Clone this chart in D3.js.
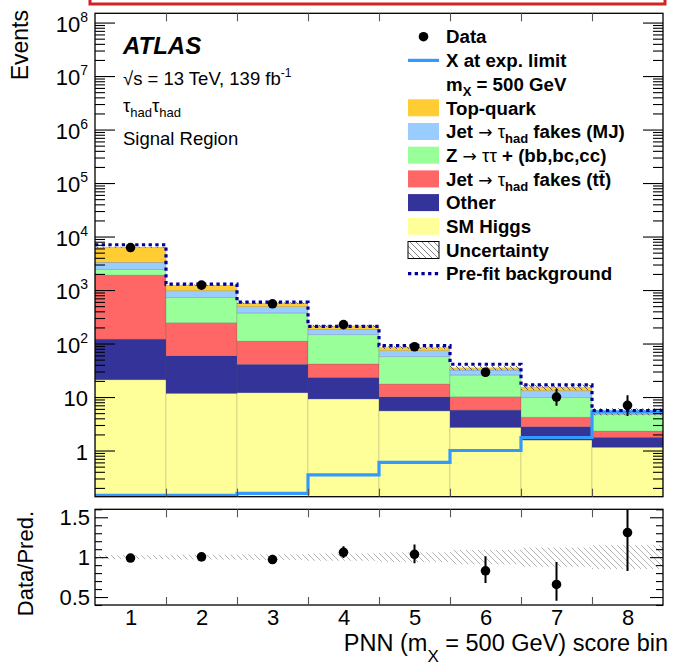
<!DOCTYPE html>
<html>
<head>
<meta charset="utf-8">
<script src="https://cdn.jsdelivr.net/npm/d3@7"></script>
<style>
  body { margin: 0; background: #fff; }
  svg { display: block; }
  text { font-family: "Liberation Sans", Arial, Helvetica, sans-serif; fill: #000; }
</style>
</head>
<body>
<svg id="chart" width="673" height="669"></svg>
<script>
// ---- PNN score bins (signal region, m_X = 500 GeV) ----
const bins = [1, 2, 3, 4, 5, 6, 7, 8];

// post-fit background contributions per bin (events)
const smHiggs    = [21, 11.7, 12, 9.2, 5.5, 2.7, 1.57, 1.15];
const other      = [100, 47.3, 29, 14.1, 4.6, 3.0, 1.23, 0.62];
const fakesTtbar = [1779, 186, 70, 18.1, 7.4, 4.4, 1.4, 0.54];
const zTauTauHF  = [540, 473, 261, 104.6, 39.1, 15.7, 5.5, 2.44];
const fakesMJ    = [860, 252, 116, 38, 16.8, 6.2, 3.4, 0.40];
const topQuark   = [3000, 260, 82, 29, 10.6, 3.0, 2.1, 0.20];

// observed data with (asymmetric) Poisson errors
const dataCounts  = [6230, 1235, 553, 226, 87, 29, 10, 7];
const dataErrLow  = [79, 35, 23.5, 15, 9.3, 5.35, 3.11, 2.58];
const dataErrHigh = [80, 36, 24.5, 16, 10.4, 6.44, 4.26, 3.77];

// pre-fit total background, signal at expected limit, relative uncertainty
const preFitBkg    = [7030, 1290, 595, 210, 91, 41, 16.8, 5.6];
const signalXLimit = [0.145, 0.145, 0.158, 0.35, 0.6, 1.0, 1.75, 5.3];
const relUnc       = [0.025, 0.03, 0.035, 0.045, 0.06, 0.09, 0.12, 0.15];

// axis tick labels
const ratioTickLabels = ["0.5", "1", "1.5"];
const ratioTicks = [0.5, 1, 1.5];

// ---- build table for the stack ----
const layerKeys = ["smHiggs", "other", "fakesTtbar", "zTauTauHF", "fakesMJ", "topQuark"];
const layerColors = {
  smHiggs: "#ffff99", other: "#333399", fakesTtbar: "#ff6666",
  zTauTauHF: "#99ff99", fakesMJ: "#99ccff", topQuark: "#ffcc33"
};
const table = bins.map((b, i) => ({
  bin: b, smHiggs: smHiggs[i], other: other[i], fakesTtbar: fakesTtbar[i],
  zTauTauHF: zTauTauHF[i], fakesMJ: fakesMJ[i], topQuark: topQuark[i]
}));
const stacked = d3.stack().keys(layerKeys)(table);
const totals = table.map(r => layerKeys.reduce((s, k) => s + r[k], 0));

// ---- geometry ----
const L = 95, R = 663;
const mainTop = 13.3, mainBot = 496.7;
const ratTop = 509.3, ratBot = 605;

const svg = d3.select("#chart");
const x = d3.scaleLinear().domain([0.5, 8.5]).range([L, R]);
const y = d3.scaleLog().domain([0.137, 1.49e8]).range([mainBot, mainTop]);
const yr = d3.scaleLinear().domain([0.4, 1.6]).range([ratBot, ratTop]);

const defs = svg.append("defs");
defs.append("clipPath").attr("id", "clipMain")
  .append("rect").attr("x", L).attr("y", mainTop).attr("width", R - L).attr("height", mainBot - mainTop);
defs.append("clipPath").attr("id", "clipRatio")
  .append("rect").attr("x", L).attr("y", ratTop).attr("width", R - L).attr("height", ratBot - ratTop);

function hatch(id, color, w) {
  const p = defs.append("pattern").attr("id", id).attr("patternUnits", "userSpaceOnUse")
    .attr("width", 6).attr("height", 6);
  p.append("path").attr("d", "M0,0L6,6M-1,5L1,7M5,-1L7,1")
    .attr("stroke", color).attr("stroke-width", w).attr("fill", "none");
}
hatch("hatchMain", "#555", 0.9);
hatch("hatchRatio", "#aaa", 0.9);
hatch("hatchLegend", "#777", 0.9);

// red box at the very top
svg.append("rect").attr("x", 90).attr("y", -10).attr("width", 575).attr("height", 14)
  .attr("fill", "none").attr("stroke", "#d02424").attr("stroke-width", 3);

// ---- main panel ----
const gMain = svg.append("g").attr("clip-path", "url(#clipMain)");
const yMin = y.domain()[0];

stacked.forEach(layer => {
  gMain.append("g").selectAll("rect").data(layer).join("rect")
    .attr("x", d => x(d.data.bin - 0.5))
    .attr("width", d => x(d.data.bin + 0.5) - x(d.data.bin - 0.5))
    .attr("y", d => y(d[1]))
    .attr("height", d => y(Math.max(d[0], yMin)) - y(d[1]))
    .attr("fill", layerColors[layer.key])
    .attr("stroke", "rgba(90,90,90,0.35)").attr("stroke-width", 0.6);
});

// uncertainty band on the total
gMain.append("g").selectAll("rect").data(bins).join("rect")
  .attr("x", (b) => x(b - 0.5)).attr("width", b => x(b + 0.5) - x(b - 0.5))
  .attr("y", (b, i) => y(totals[i] * (1 + relUnc[i])))
  .attr("height", (b, i) => y(totals[i] * (1 - relUnc[i])) - y(totals[i] * (1 + relUnc[i])))
  .attr("fill", "url(#hatchMain)");

function stepPoints(vals) {
  const pts = [];
  bins.forEach((b, i) => { pts.push([x(b - 0.5), y(vals[i])]); pts.push([x(b + 0.5), y(vals[i])]); });
  return pts;
}
const line = d3.line();

// signal at expected limit
gMain.append("path").attr("d", line(stepPoints(signalXLimit)))
  .attr("fill", "none").attr("stroke", "#3399ff").attr("stroke-width", 3.2);

// pre-fit background
gMain.append("path").attr("d", line(stepPoints(preFitBkg)))
  .attr("fill", "none").attr("stroke", "#000099").attr("stroke-width", 3.2)
  .attr("stroke-dasharray", "3.3,3.4");

// data
const gData = gMain.append("g");
gData.selectAll("line").data(bins).join("line")
  .attr("x1", b => x(b)).attr("x2", b => x(b))
  .attr("y1", (b, i) => y(dataCounts[i] + dataErrHigh[i]))
  .attr("y2", (b, i) => y(dataCounts[i] - dataErrLow[i]))
  .attr("stroke", "#000").attr("stroke-width", 2);
gData.selectAll("circle").data(bins).join("circle")
  .attr("cx", b => x(b)).attr("cy", (b, i) => y(dataCounts[i])).attr("r", 4.8).attr("fill", "#000");

// frame and ticks of main panel
svg.append("rect").attr("x", L).attr("y", mainTop).attr("width", R - L).attr("height", mainBot - mainTop)
  .attr("fill", "none").attr("stroke", "#000").attr("stroke-width", 1.3);

const majors = d3.range(0, 9).map(k => Math.pow(10, k));
const minors = [];
for (let k = -1; k < 8; k++) for (let m = 2; m <= 9; m++) {
  const v = m * Math.pow(10, k);
  if (v >= y.domain()[0] && v <= y.domain()[1]) minors.push(v);
}
function styleAxis(g) { g.select(".domain").remove(); g.selectAll("line").attr("stroke", "#000").attr("stroke-width", 1.1); g.selectAll("text").remove(); }
svg.append("g").attr("transform", `translate(${L},0)`).call(d3.axisLeft(y).tickValues(majors).tickSize(-20)).call(styleAxis);
svg.append("g").attr("transform", `translate(${L},0)`).call(d3.axisLeft(y).tickValues(minors).tickSize(-10)).call(styleAxis);
svg.append("g").attr("transform", `translate(${R},0)`).call(d3.axisRight(y).tickValues(majors).tickSize(-20)).call(styleAxis);
svg.append("g").attr("transform", `translate(${R},0)`).call(d3.axisRight(y).tickValues(minors).tickSize(-10)).call(styleAxis);

const binEdges = bins.slice(1).map(b => b - 0.5);
function styleX(g) { g.select(".domain").remove(); g.selectAll("line").attr("stroke", "#555").attr("stroke-width", 1.1); g.selectAll("text").remove(); }
svg.append("g").attr("transform", `translate(0,${mainBot})`).call(d3.axisBottom(x).tickValues(binEdges).tickSize(-8)).call(styleX);
svg.append("g").attr("transform", `translate(0,${mainTop})`).call(d3.axisTop(x).tickValues(binEdges).tickSize(-8)).call(styleX);

// y labels: 1, 10, 10^2 ... 10^8
const yLab = svg.append("g").attr("font-size", 22);
majors.forEach((v, k) => {
  const t = yLab.append("text").attr("x", 88).attr("y", y(v) + 9).attr("text-anchor", "end");
  if (k === 0) t.text("1");
  else if (k === 1) t.text("10");
  else {
    t.append("tspan").text("10");
    t.append("tspan").attr("font-size", 14).attr("dy", -10).text(String(k));
  }
});
svg.append("text").attr("transform", "translate(28,10) rotate(-90)").attr("text-anchor", "end")
  .attr("font-size", 23).text("Events");

// ---- ratio panel ----
const gRat = svg.append("g").attr("clip-path", "url(#clipRatio)");
const ratio = dataCounts.map((d, i) => d / totals[i]);
gRat.append("g").selectAll("rect").data(bins).join("rect")
  .attr("x", b => x(b - 0.5)).attr("width", b => x(b + 0.5) - x(b - 0.5))
  .attr("y", (b, i) => yr(1 + relUnc[i])).attr("height", (b, i) => yr(1 - relUnc[i]) - yr(1 + relUnc[i]))
  .attr("fill", "url(#hatchRatio)");
gRat.append("g").selectAll("line").data(bins).join("line")
  .attr("x1", b => x(b)).attr("x2", b => x(b))
  .attr("y1", (b, i) => yr((dataCounts[i] + dataErrHigh[i]) / totals[i]))
  .attr("y2", (b, i) => yr((dataCounts[i] - dataErrLow[i]) / totals[i]))
  .attr("stroke", "#000").attr("stroke-width", 2);
gRat.append("g").selectAll("circle").data(bins).join("circle")
  .attr("cx", b => x(b)).attr("cy", (b, i) => yr(ratio[i])).attr("r", 4.8).attr("fill", "#000");

svg.append("rect").attr("x", L).attr("y", ratTop).attr("width", R - L).attr("height", ratBot - ratTop)
  .attr("fill", "none").attr("stroke", "#000").attr("stroke-width", 1.3);

const rMinor = d3.range(4, 17).map(v => v / 10).filter(v => !ratioTicks.some(t => Math.abs(t - v) < 1e-6));
svg.append("g").attr("transform", `translate(${L},0)`).call(d3.axisLeft(yr).tickValues(ratioTicks).tickSize(-13)).call(styleAxis);
svg.append("g").attr("transform", `translate(${L},0)`).call(d3.axisLeft(yr).tickValues(rMinor).tickSize(-7)).call(styleAxis);
svg.append("g").attr("transform", `translate(${R},0)`).call(d3.axisRight(yr).tickValues(ratioTicks).tickSize(-13)).call(styleAxis);
svg.append("g").attr("transform", `translate(${R},0)`).call(d3.axisRight(yr).tickValues(rMinor).tickSize(-7)).call(styleAxis);
svg.append("g").attr("transform", `translate(0,${ratBot})`).call(d3.axisBottom(x).tickValues(binEdges).tickSize(-8)).call(styleX);
svg.append("g").attr("transform", `translate(0,${ratTop})`).call(d3.axisTop(x).tickValues(binEdges).tickSize(-8)).call(styleX);

const rLab = svg.append("g").attr("font-size", 22);
ratioTicks.forEach((v, i) => {
  rLab.append("text").attr("x", 90).attr("y", yr(v) + 8).attr("text-anchor", "end").text(ratioTickLabels[i]);
});
svg.append("text").attr("transform", "translate(33,511) rotate(-90)").attr("text-anchor", "end")
  .attr("font-size", 22).text("Data/Pred.");

// x labels
const xl = svg.append("g").attr("transform", `translate(0,${ratBot})`)
  .call(d3.axisBottom(x).tickValues(bins).tickSize(0).tickFormat(d3.format("d")));
xl.select(".domain").remove();
xl.selectAll("text").attr("font-size", 22).attr("dy", 0).attr("y", 20)
  .attr("font-family", "'Liberation Sans', Arial, sans-serif").attr("fill", "#000");

const xt = svg.append("text").attr("x", 668).attr("y", 651).attr("text-anchor", "end").attr("font-size", 23.5);
xt.append("tspan").text("PNN (m");
xt.append("tspan").attr("font-size", 17).attr("dy", 11).text("X");
xt.append("tspan").attr("dy", -11).text(" = 500 GeV) score bin");

// ---- labels ----
svg.append("text").attr("x", 123).attr("y", 54).attr("font-size", 24)
  .attr("font-weight", "bold").attr("font-style", "italic").text("ATLAS");
const en = svg.append("text").attr("x", 123).attr("y", 85).attr("font-size", 18.5);
en.append("tspan").text("\u221As = 13 TeV, 139 fb");
en.append("tspan").attr("font-size", 12).attr("dy", -8).text("-1");
const ch = svg.append("text").attr("x", 123).attr("y", 112).attr("font-size", 18.5);
ch.append("tspan").text("\u03C4");
ch.append("tspan").attr("font-size", 13).attr("dy", 5).text("had");
ch.append("tspan").attr("dy", -5).text("\u03C4");
ch.append("tspan").attr("font-size", 13).attr("dy", 5).text("had");
svg.append("text").attr("x", 123).attr("y", 145).attr("font-size", 18.5).text("Signal Region");

// ---- legend ----
const leg = svg.append("g").attr("font-size", 18.7).attr("font-weight", "bold");
const lx0 = 408, lx1 = 439, ltx = 446, ly0 = 36.7, ldy = 23.7;
function legText(row, parts) {
  const t = leg.append("text").attr("x", ltx).attr("y", ly0 + row * ldy + 6.7);
  parts.forEach(p => {
    const s = t.append("tspan").text(p.t);
    if (p.sub) s.attr("font-size", 13).attr("dy", 5);
    if (p.back) s.attr("dy", -5);
    if (p.normal) s.attr("font-weight", "normal");
    if (p.arrow) s.attr("font-weight", "normal").attr("font-family", "'DejaVu Sans', sans-serif").attr("font-size", 17);
  });
}
function legBox(row, fill) {
  leg.append("rect").attr("x", lx0).attr("y", ly0 + row * ldy - 8.5).attr("width", lx1 - lx0).attr("height", 17)
    .attr("fill", fill);
}
leg.append("circle").attr("cx", 423.5).attr("cy", ly0).attr("r", 4.8).attr("fill", "#000");
legText(0, [{ t: "Data" }]);
leg.append("line").attr("x1", lx0).attr("x2", lx1).attr("y1", ly0 + ldy).attr("y2", ly0 + ldy)
  .attr("stroke", "#3399ff").attr("stroke-width", 3.2);
legText(1, [{ t: "X at exp. limit" }]);
legText(2, [{ t: "m" }, { t: "X", sub: true }, { t: " = 500 GeV", back: true }]);
legBox(3, layerColors.topQuark);
legText(3, [{ t: "Top-quark" }]);
legBox(4, layerColors.fakesMJ);
legText(4, [{ t: "Jet " }, { t: "\u2192", arrow: true }, { t: " \u03C4", normal: true }, { t: "had", sub: true }, { t: " fakes (MJ)", back: true }]);
legBox(5, layerColors.zTauTauHF);
legText(5, [{ t: "Z " }, { t: "\u2192", arrow: true }, { t: " \u03C4\u03C4", normal: true }, { t: " + (bb,bc,cc)" }]);
legBox(6, layerColors.fakesTtbar);
legText(6, [{ t: "Jet " }, { t: "\u2192", arrow: true }, { t: " \u03C4", normal: true }, { t: "had", sub: true }, { t: " fakes (tt\u0304)", back: true }]);
legBox(7, layerColors.other);
legText(7, [{ t: "Other" }]);
legBox(8, layerColors.smHiggs);
legText(8, [{ t: "SM Higgs" }]);
leg.append("rect").attr("x", lx0).attr("y", ly0 + 9 * ldy - 8.5).attr("width", lx1 - lx0).attr("height", 17)
  .attr("fill", "url(#hatchLegend)").attr("stroke", "#000").attr("stroke-width", 1);
legText(9, [{ t: "Uncertainty" }]);
leg.append("line").attr("x1", lx0).attr("x2", lx1).attr("y1", ly0 + 10 * ldy).attr("y2", ly0 + 10 * ldy)
  .attr("stroke", "#000099").attr("stroke-width", 3.2).attr("stroke-dasharray", "3.3,3.4");
legText(10, [{ t: "Pre-fit background" }]);
</script>
</body>
</html>
